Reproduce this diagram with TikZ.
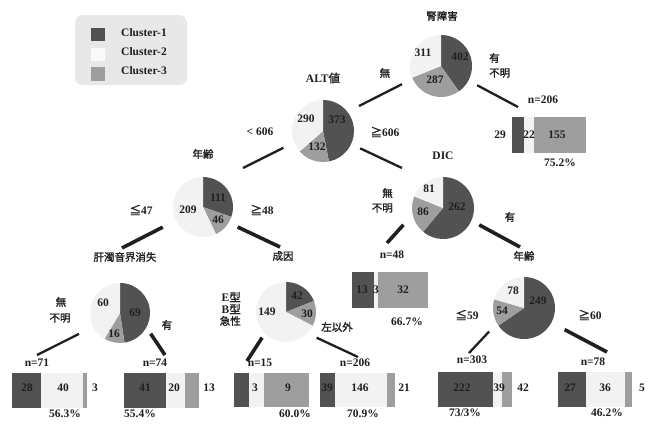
\documentclass[tikz,border=0pt]{standalone}
\usepackage{fontspec}
\setmainfont{Liberation Serif}
\newfontfamily\cjk{Noto Sans CJK JP}[AutoFakeBold=1.5]
\usetikzlibrary{calc}
\definecolor{cA}{gray}{0.32}
\definecolor{cB}{gray}{0.95}
\definecolor{cC}{gray}{0.62}
\definecolor{legbg}{gray}{0.91}
\definecolor{ink}{gray}{0.12}
\newcommand{\mypie}[5]{%
  \pgfmathsetmacro\mytot{#3+#4+#5}%
  \pgfmathsetmacro\myangA{90-(360/\mytot)*#3}%
  \pgfmathsetmacro\myangB{\myangA-(360/\mytot)*#4}%
  \fill[cA] (#1) -- ++(90:#2) arc[start angle=90,end angle=\myangA,radius=#2] -- cycle;
  \fill[cC] (#1) -- ++(\myangA:#2) arc[start angle=\myangA,end angle=\myangB,radius=#2] -- cycle;
  \fill[cB] (#1) -- ++(\myangB:#2) arc[start angle=\myangB,end angle=-270,radius=#2] -- cycle;
}
\newcommand{\mybar}[6]{%
  \fill[cA] (#1,-#5) rectangle (#2,-#6);
  \fill[cB] (#2,-#5) rectangle (#3,-#6);
  \fill[cC] (#3,-#5) rectangle (#4,-#6);
}
\begin{document}
\begin{tikzpicture}[x=1pt,y=1pt,
  every node/.style={inner sep=0pt, text=ink, font=\fontsize{11.5}{12}\selectfont\bfseries},
  jp/.style={font=\fontsize{10.5}{13}\selectfont\cjk\bfseries},
  pienode/.style={circle, minimum size=62pt},
  edge/.style={draw=ink, line width=2.3pt},
  edgeb/.style={draw=ink, line width=3.6pt}]
\useasboundingbox (0,0) rectangle (654,-442);
\fill[white] (0,0) rectangle (654,-442);

% legend
\fill[legbg, rounded corners=8pt] (75,-15) rectangle (187,-85);
\fill[cA] (91,-28) rectangle (105,-41);
\fill[gray!4] (91,-48) rectangle (105,-61);
\fill[cC] (91,-67) rectangle (105,-81);
\node[anchor=west] (lg1) at (121,-33) {Cluster-1};
\node[anchor=west] (lg2) at (121,-52) {Cluster-2};
\node[anchor=west] (lg3) at (121,-71) {Cluster-3};

% pies
\node[pienode] (pK) at (441,-66) {};
\node[pienode] (pALT) at (323,-131) {};
\node[pienode] (pDIC) at (443,-208) {};
\node[pienode] (pAgeL) at (203,-207) {};
\node[pienode] (pLiv) at (120,-313) {};
\node[pienode] (pCau) at (286,-312) {};
\node[pienode] (pAgeR) at (524,-308) {};
\mypie{pK.center}{31}{402}{287}{311}
\mypie{pALT.center}{31}{373}{132}{290}
\mypie{pDIC.center}{31}{262}{86}{81}
\mypie{pAgeL.center}{30}{111}{46}{209}
\mypie{pLiv.center}{30}{69}{16}{60}
\mypie{pCau.center}{30}{42}{30}{149}
\mypie{pAgeR.center}{31}{249}{54}{78}

% pie values
\node (vK1) at (460,-57) {402};
\node (vK2) at (423,-53) {311};
\node (vK3) at (435,-80) {287};
\node (vA1) at (337,-120) {373};
\node (vA2) at (306,-119) {290};
\node (vA3) at (317,-147) {132};
\node (vD1) at (457,-207) {262};
\node (vD2) at (429,-189) {81};
\node (vD3) at (423,-212) {86};
\node (vL1) at (218,-198) {111};
\node (vL2) at (188,-210) {209};
\node (vL3) at (218,-220) {46};
\node (vH1) at (135,-313) {69};
\node (vH2) at (103,-303) {60};
\node (vH3) at (114,-334) {16};
\node (vC1) at (297,-296) {42};
\node (vC2) at (267,-312) {149};
\node (vC3) at (307,-314) {30};
\node (vR1) at (538,-301) {249};
\node (vR2) at (513,-291) {78};
\node (vR3) at (502,-311) {54};

% titles and branch labels
\node[jp] (tK) at (442,-16) {腎障害};
\node[jp] (bK1) at (385,-73) {無};
\node[jp, anchor=west] (bK2) at (489,-58) {有};
\node[jp, anchor=west] (bK3) at (489,-73) {不明};
\node (tALT) at (323,-78) {ALT{\cjk 値}};
\node (bA1) at (260,-132) {< 606};
\node (bA2) at (385,-132) {{\cjk ≧}606};
\node (tDIC) at (443,-156) {DIC};
\node[jp, anchor=east] (bD1) at (393,-193) {無};
\node[jp, anchor=east] (bD2) at (393,-208) {不明};
\node[jp] (bD3) at (510,-217) {有};
\node[jp] (tAgeL) at (203,-154) {年齢};
\node (bL1) at (141,-210) {{\cjk ≦}47};
\node (bL2) at (262,-210) {{\cjk ≧}48};
\node[jp] (tLiv) at (125,-257) {肝濁音界消失};
\node[jp] (tCau) at (283,-256) {成因};
\node[jp] (tAgeR) at (524,-256) {年齢};
\node[jp] (bH1) at (61,-302) {無};
\node[jp] (bH2) at (60,-318) {不明};
\node[jp] (bH3) at (167,-325) {有};
\node[anchor=east] (bC1) at (241,-297) {E{\cjk 型}};
\node[anchor=east] (bC2) at (241,-309) {B{\cjk 型}};
\node[jp, anchor=east] (bC3) at (241,-321) {急性};
\node[jp] (bC4) at (337,-327) {左以外};
\node (bR1) at (467,-315) {{\cjk ≦}59};
\node (bR2) at (590,-315) {{\cjk ≧}60};

% n labels
\node (n1) at (543,-100) {n=206};
\node (n2) at (392,-255) {n=48};
\node (n3) at (37,-363) {n=71};
\node (n4) at (155,-363) {n=74};
\node (n5) at (260,-363) {n=15};
\node (n6) at (355,-363) {n=206};
\node (n7) at (472,-360) {n=303};
\node (n8) at (593,-362) {n=78};

% connector ends
\coordinate (e1) at (359,-106);
\coordinate (e2) at (518,-107);
\coordinate (e3) at (243,-168);
\coordinate (e4) at (402,-168);
\coordinate (e5) at (387,-243);
\coordinate (e6) at (520,-247);
\coordinate (e7) at (122,-248);
\coordinate (e8) at (280,-247);
\coordinate (e9) at (37,-355);
\coordinate (e10) at (165,-355);
\coordinate (e11) at (247,-361);
\coordinate (e12) at (358,-357);
\coordinate (e13) at (469,-353);
\coordinate (e14) at (607,-352);

\draw[edge] ($(pK.center)+(205:43)$) -- (e1);
\draw[edge] ($(pK.center)+(332:41)$) -- (e2);
\draw[edge] ($(pALT.center)+(203:43)$) -- (e3);
\draw[edge] ($(pALT.center)+(335:41)$) -- (e4);
\draw[edgeb] ($(pDIC.center)+(203:43)$) -- (e5);
\draw[edgeb] ($(pDIC.center)+(335:40)$) -- (e6);
\draw[edgeb] ($(pAgeL.center)+(206.6:45)$) -- (e7);
\draw[edgeb] ($(pAgeL.center)+(330:40)$) -- (e8);
\draw[edge] ($(pLiv.center)+(207:46)$) -- (e9);
\draw[edgeb] ($(pLiv.center)+(326:37)$) -- (e10);
\draw[edgeb] ($(pCau.center)+(227:35)$) -- (e11);
\draw[edge] ($(pCau.center)+(320:40)$) -- (e12);
\draw[edge] ($(pAgeR.center)+(214:42)$) -- (e13);
\draw[edgeb] ($(pAgeR.center)+(332:46)$) -- (e14);

% bars
\mybar{512}{524}{534}{586}{117}{153}
\mybar{352}{374}{378}{428}{272}{308}
\mybar{12}{41}{83}{87}{373}{408}
\mybar{124}{166}{185}{199}{373}{408}
\mybar{234}{249}{264}{309}{373}{407}
\mybar{320}{335}{387}{395}{373}{407}
\mybar{438}{493}{502}{512}{372}{407}
\mybar{558}{586}{625}{632}{372}{407}

% bar values
\node (a1) at (500,-135) {29};
\node (a2) at (529,-135) {22};
\node (a3) at (557,-135) {155};
\node (b1) at (362,-290) {13};
\node (b2) at (376,-290) {3};
\node (b3) at (403,-290) {32};
\node (c1) at (27,-388) {28};
\node (c2) at (63,-388) {40};
\node (c3) at (95,-388) {3};
\node (d1) at (145,-388) {41};
\node (d2) at (174,-388) {20};
\node (d3) at (209,-388) {13};
\node (f2) at (255,-388) {3};
\node (f3) at (288,-388) {9};
\node (g1) at (327,-388) {39};
\node (g2) at (360,-388) {146};
\node (g3) at (404,-388) {21};
\node (h1) at (462,-388) {222};
\node (h2) at (499,-388) {39};
\node (h3) at (523,-388) {42};
\node (k1) at (570,-388) {27};
\node (k2) at (605,-388) {36};
\node (k3) at (642,-388) {5};

% percentages
\node (p1) at (560,-163) {75.2\%};
\node (p2) at (407,-322) {66.7\%};
\node (p3) at (65,-414) {56.3\%};
\node (p4) at (140,-414) {55.4\%};
\node (p5) at (295,-414) {60.0\%};
\node (p6) at (363,-414) {70.9\%};
\node (p7) at (465,-413) {73/3\%};
\node (p8) at (607,-413) {46.2\%};
\end{tikzpicture}
\end{document}
